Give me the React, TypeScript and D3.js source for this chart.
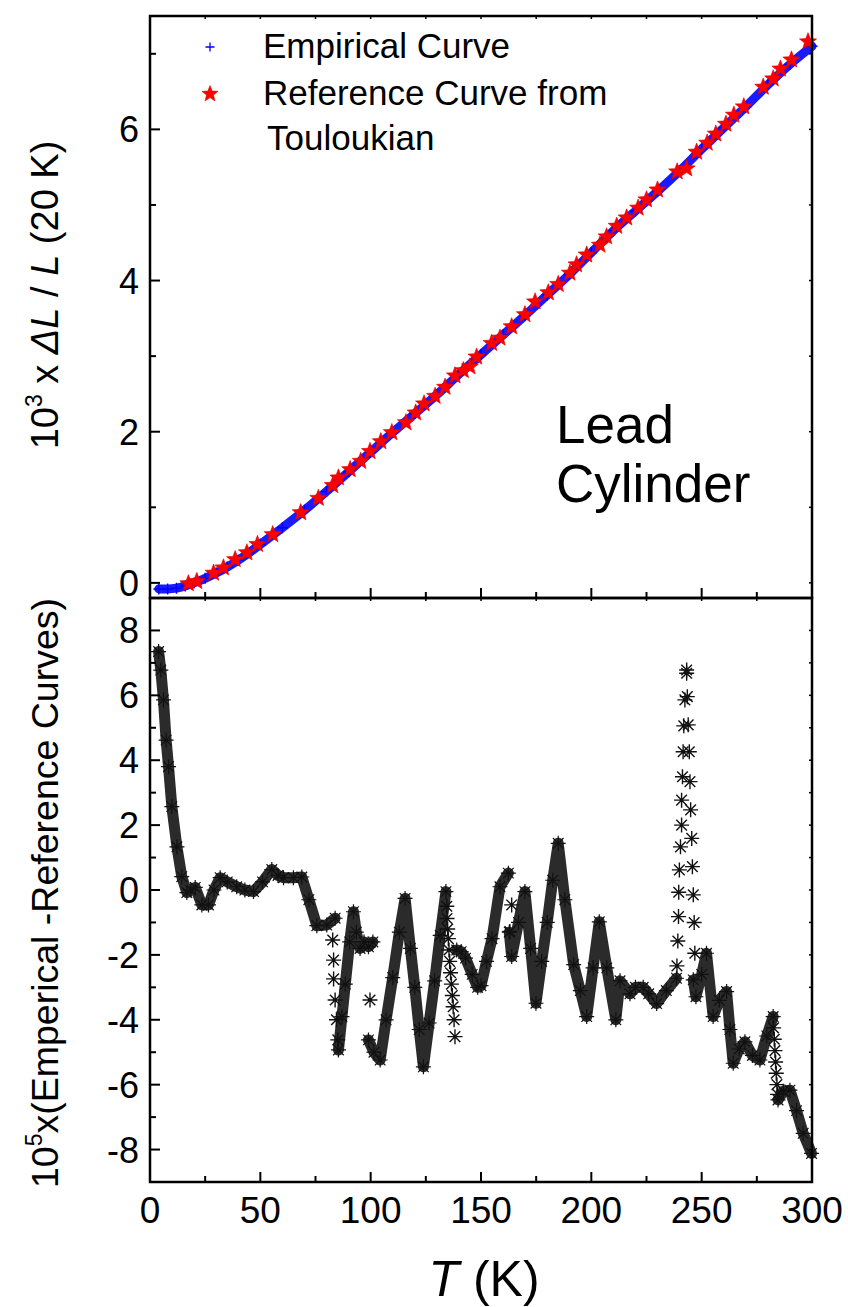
import React from 'react';
import * as d3 from 'd3';

// ---------- tick labels ----------
const xTicksMajor = [0, 50, 100, 150, 200, 250, 300];
const xTicksMinor = [25, 75, 125, 175, 225, 275];
const topYMajor = [0, 2, 4, 6];
const topYMinor = [1, 3, 5, 7];
const botYMajor = [-8, -6, -4, -2, 0, 2, 4, 6, 8];
const botYMinor = [-7, -5, -3, -1, 1, 3, 5, 7];

// ---------- top panel: empirical curve (10^3 x dL/L) ----------
const empT = [4, 8, 12, 16, 20, 25, 30, 35, 40, 45, 50, 60, 70, 80, 90, 100, 110, 120, 130, 140, 150, 160, 170, 180, 190, 200, 210, 220, 230, 240, 250, 260, 270, 280, 290, 300];
const empV = [-0.08, -0.08, -0.07, -0.04, 0.0, 0.06, 0.13, 0.21, 0.30, 0.40, 0.51, 0.73, 0.96, 1.21, 1.47, 1.73, 1.99, 2.24, 2.49, 2.76, 3.02, 3.28, 3.54, 3.81, 4.08, 4.37, 4.66, 4.92, 5.18, 5.45, 5.74, 6.02, 6.30, 6.59, 6.86, 7.10];

// ---------- top panel: reference curve from Touloukian ----------
const refT = [17.4, 21.2, 28.8, 33.3, 38.6, 43.9, 48.7, 55.6, 68.3, 76.3, 82.8, 85.4, 90.7, 95.5, 99.7, 104.6, 109.6, 116, 120.4, 124.2, 129.2, 133.7, 138.2, 142, 145, 148, 154.8, 158.6, 163.9, 169.9, 174.5, 180.5, 185, 190.3, 193.3, 197.9, 203.9, 206.9, 211.5, 216, 221.2, 225, 230, 238.9, 243.2, 247.7, 252.5, 256.4, 261, 264.6, 269.1, 277.9, 282.4, 285.7, 290.7, 298.2];
const refV = [-0.01, 0.02, 0.13, 0.20, 0.31, 0.40, 0.51, 0.64, 0.93, 1.12, 1.29, 1.39, 1.50, 1.61, 1.74, 1.87, 1.99, 2.12, 2.25, 2.37, 2.47, 2.59, 2.74, 2.81, 2.86, 2.99, 3.17, 3.24, 3.39, 3.55, 3.72, 3.84, 3.95, 4.10, 4.21, 4.34, 4.47, 4.58, 4.72, 4.83, 4.96, 5.07, 5.20, 5.44, 5.48, 5.70, 5.82, 5.94, 6.07, 6.19, 6.30, 6.56, 6.67, 6.80, 6.92, 7.16];

// ---------- bottom panel: 10^5 x (empirical - reference), dense runs ----------
const band1: [number, number][] = [[3.9, 7.35], [4.9, 6.78], [6.1, 5.86], [7.3, 4.62], [8.4, 3.8], [9.9, 2.57], [12.2, 1.33], [14.4, 0.41], [16.7, -0.08], [18.5, 0.0], [20.5, 0.08], [23.5, -0.46], [26.5, -0.46], [29, 0.0], [31.8, 0.38], [35, 0.25], [39.3, 0.1], [43, 0.0], [46.9, -0.05], [51, 0.25], [55.2, 0.63], [58, 0.45], [60.5, 0.38], [65, 0.38], [68.8, 0.4], [72, -0.3], [75.6, -1.1], [80.1, -1.08], [83.9, -0.87]];
const band2: [number, number][] = [[85.4, -4.93], [87, -3.9], [88.5, -2.9], [90.5, -1.6], [92.2, -0.67], [93.5, -1.3], [95.2, -1.8], [97, -1.6], [99, -1.75], [101, -1.6]];
const band3: [number, number][] = [[99, -4.62], [101.5, -5.0], [104.3, -5.24], [107, -4.0], [110, -2.7], [113, -1.3], [115.6, -0.26], [118, -1.8], [120, -3.0], [122, -4.3], [123.9, -5.45], [126.5, -4.1], [129, -2.8], [131.5, -1.4], [134.1, -0.05]];
const band4: [number, number][] = [[139, -1.85], [141, -1.9], [143, -2.1], [146, -2.6], [148.5, -3.0], [150, -2.95], [152.5, -2.2], [155, -1.5], [158.6, 0.1], [162.4, 0.52]];
const band5: [number, number][] = [[162.8, -1.3], [163.9, -2.05], [167, -1.0], [169.9, -0.05], [172.5, -1.8], [174.9, -3.49], [177.5, -2.2], [180, -1.0], [182.5, 0.3], [185, 1.44], [188, -0.3], [192, -2.3], [195, -3.1], [197.9, -3.9], [200.8, -2.4], [203.6, -0.98], [207, -2.4], [211.1, -4.0], [213, -2.8], [217.5, -3.2], [220, -3.0], [223.5, -3.0], [226, -3.2], [229.6, -3.5], [234, -3.1], [238.6, -2.72]];
const band6: [number, number][] = [[246.2, -2.77], [247.4, -3.29], [250, -2.6], [252.2, -1.95], [255.2, -3.9], [258, -3.4], [261.3, -3.13], [262.8, -4.3], [264.3, -5.34], [267, -4.9], [269.6, -4.68], [273, -5.1], [276.4, -5.24], [279.5, -4.5], [282.4, -3.9]];
const band7: [number, number][] = [[284.6, -6.47], [287, -6.2], [290, -6.17], [293, -6.8], [296, -7.5], [299.8, -8.12]];

// ---------- bottom panel: isolated / sparse points ----------
const sparseA: [number, number][] = [[82.8, -1.54], [83.2, -2.16], [83.2, -2.74], [83.9, -3.39], [84.5, -4.0], [85.1, -4.62], [99.7, -3.39]];
const sparseB: [number, number][] = [[134.5, -0.5], [134.6, -0.88], [134.9, -1.2], [135.2, -1.5], [135.5, -1.85], [135.8, -2.2], [136.2, -2.55], [136.6, -2.9], [137.0, -3.25], [137.4, -3.6], [137.8, -4.0], [138.2, -4.52], [163.9, -0.46], [163.1, -1.28]];
const spikeUp: [number, number][] = [[238.8, -2.34], [239.2, -1.57], [239.5, -0.82], [239.6, -0.07], [239.9, 0.62], [240.4, 1.33], [240.9, 2.0], [240.9, 2.77], [241.3, 3.49], [241.6, 4.26], [241.9, 5.06], [242.4, 5.86], [243.2, 6.68]];
const spikeDown: [number, number][] = [[243.2, 6.78], [243.5, 5.96], [243.9, 5.09], [244.4, 4.26], [244.7, 3.34], [245.0, 2.47], [245.5, 1.59], [245.8, 0.72], [246.2, -0.15], [246.6, -1.0], [246.9, -1.95]];
const sparseC: [number, number][] = [[282.6, -4.25], [282.9, -4.6], [283.2, -4.95], [283.5, -5.3], [283.8, -5.65], [284.1, -6.0], [284.4, -6.3]];

const FONT = "'Liberation Sans', Arial, Helvetica, sans-serif";

function starPath(cx: number, cy: number, R: number, r: number) {
  const pts: string[] = [];
  for (let i = 0; i < 10; i++) {
    const a = -Math.PI / 2 + (i * Math.PI) / 5;
    const rr = i % 2 === 0 ? R : r;
    pts.push(`${(cx + rr * Math.cos(a)).toFixed(2)},${(cy + rr * Math.sin(a)).toFixed(2)}`);
  }
  return 'M' + pts.join('L') + 'Z';
}

function asteriskPath(cx: number, cy: number, s: number) {
  const d = s * 0.7071;
  return `M${cx - s},${cy}L${cx + s},${cy}M${cx},${cy - s}L${cx},${cy + s}M${cx - d},${cy - d}L${cx + d},${cy + d}M${cx - d},${cy + d}L${cx + d},${cy - d}`;
}

function plusPath(cx: number, cy: number, s: number) {
  return `M${cx - s},${cy}L${cx + s},${cy}M${cx},${cy - s}L${cx},${cy + s}`;
}

export default function App() {
  const W = 848, H = 1307;
  const L = 150, R = 812, TOP = 16, MID = 598, BOT = 1182;
  const x = d3.scaleLinear().domain([0, 300]).range([L, R]);
  const yTop = d3.scaleLinear().domain([-0.2, 7.5]).range([MID, TOP]);
  const yBot = d3.scaleLinear().domain([-9, 9]).range([BOT, MID]);

  const empLine = d3.line<number>().x((_, i) => x(empT[i])).y((v) => yTop(v)).curve(d3.curveMonotoneX);
  const resLine = d3.line<[number, number]>().x((d) => x(d[0])).y((d) => yBot(d[1])).curve(d3.curveLinear);

  const bands = [band1, band2, band3, band4, band5, band6, band7];
  const sparse = [sparseA, sparseB, spikeUp, spikeDown, sparseC];

  const axisW = 2.5;
  const majorLen = 10, minorLen = 6, shortLen = 3;

  const allX = d3.range(0, 301, 25);
  const topYAll = d3.range(0, 8, 1);
  const botYAll = d3.range(-9, 10, 1);

  return (
    <svg width={W} height={H} viewBox={`0 0 ${W} ${H}`} style={{ position: 'absolute', left: 0, top: 0, display: 'block', background: '#fff' }} fontFamily={FONT}>
      <rect x={0} y={0} width={W} height={H} fill="#fff" />

      {/* ---------------- TOP PANEL DATA ---------------- */}
      <path d={empLine(empV) || ''} fill="none" stroke="#1a1aff" strokeWidth={9} strokeLinejoin="round" strokeLinecap="round" />
      {empV.map((v, i) => (
        <path key={'ep' + i} d={plusPath(x(empT[i]), yTop(v), 5.5)} stroke="#0000ff" strokeWidth={1.4} fill="none" />
      ))}
      {refV.map((v, i) => (
        <path key={'rs' + i} d={starPath(x(refT[i]), yTop(v), 9, 3.8)} fill="#ff0000" stroke="#e00000" strokeWidth={0.6} />
      ))}

      {/* ---------------- BOTTOM PANEL DATA ---------------- */}
      {bands.map((b, i) => (
        <path key={'bl' + i} d={resLine(b) || ''} fill="none" stroke="#2b2b2b" strokeWidth={11} strokeLinejoin="round" strokeLinecap="round" />
      ))}
      {bands.map((b, i) =>
        b.map((d, j) => (
          <path key={'bm' + i + '_' + j} d={asteriskPath(x(d[0]), yBot(d[1]), 7.5)} stroke="#111" strokeWidth={1.2} fill="none" />
        ))
      )}
      {sparse.map((b, i) =>
        b.map((d, j) => (
          <path key={'sm' + i + '_' + j} d={asteriskPath(x(d[0]), yBot(d[1]), 7.5)} stroke="#111" strokeWidth={1.4} fill="none" />
        ))
      )}

      {/* ---------------- FRAMES ---------------- */}
      <rect x={L} y={TOP} width={R - L} height={MID - TOP} fill="none" stroke="#000" strokeWidth={axisW} />
      <rect x={L} y={MID} width={R - L} height={BOT - MID} fill="none" stroke="#000" strokeWidth={axisW} />

      {/* ---------------- TICKS ---------------- */}
      {allX.map((t) => {
        const major = t % 50 === 0;
        return <line key={'tb' + t} x1={x(t)} x2={x(t)} y1={MID} y2={MID - (major ? majorLen : minorLen)} stroke="#000" strokeWidth={2} />;
      })}
      {allX.map((t) => (
        <line key={'tt' + t} x1={x(t)} x2={x(t)} y1={TOP} y2={TOP + shortLen} stroke="#000" strokeWidth={1.5} />
      ))}
      {topYMajor.map((t) => (
        <line key={'tlM' + t} x1={L} x2={L + majorLen} y1={yTop(t)} y2={yTop(t)} stroke="#000" strokeWidth={2} />
      ))}
      {topYMinor.map((t) => (
        <line key={'tlm' + t} x1={L} x2={L + minorLen} y1={yTop(t)} y2={yTop(t)} stroke="#000" strokeWidth={2} />
      ))}
      {topYAll.map((t) => (
        <line key={'tr' + t} x1={R} x2={R - shortLen} y1={yTop(t)} y2={yTop(t)} stroke="#000" strokeWidth={1.5} />
      ))}
      {allX.map((t) => {
        const major = t % 50 === 0;
        return <line key={'bb' + t} x1={x(t)} x2={x(t)} y1={BOT} y2={BOT - (major ? majorLen : minorLen)} stroke="#000" strokeWidth={2} />;
      })}
      {allX.map((t) => (
        <line key={'bt' + t} x1={x(t)} x2={x(t)} y1={MID} y2={MID + shortLen} stroke="#000" strokeWidth={1.5} />
      ))}
      {botYMajor.map((t) => (
        <line key={'blM' + t} x1={L} x2={L + majorLen} y1={yBot(t)} y2={yBot(t)} stroke="#000" strokeWidth={2} />
      ))}
      {botYMinor.map((t) => (
        <line key={'blm' + t} x1={L} x2={L + minorLen} y1={yBot(t)} y2={yBot(t)} stroke="#000" strokeWidth={2} />
      ))}
      {botYAll.map((t) => (
        <line key={'br' + t} x1={R} x2={R - shortLen} y1={yBot(t)} y2={yBot(t)} stroke="#000" strokeWidth={1.5} />
      ))}

      {/* ---------------- TICK LABELS ---------------- */}
      {topYMajor.map((t) => (
        <text key={'tyl' + t} x={139} y={yTop(t)} dy="0.36em" textAnchor="end" fontSize={36} fill="#000">{t}</text>
      ))}
      {botYMajor.map((t) => (
        <text key={'byl' + t} x={139} y={yBot(t)} dy="0.36em" textAnchor="end" fontSize={36} fill="#000">{t}</text>
      ))}
      {xTicksMajor.map((t) => (
        <text key={'xl' + t} x={x(t)} y={1223} textAnchor="middle" fontSize={37} fill="#000">{t}</text>
      ))}

      {/* ---------------- AXIS TITLES ---------------- */}
      <text transform="translate(58,295) rotate(-90)" textAnchor="middle" fontSize={38} fill="#000">
        <tspan>10</tspan>
        <tspan fontSize={23} dy={-16}>3</tspan>
        <tspan dy={16}> x </tspan>
        <tspan fontStyle="italic">ΔL</tspan>
        <tspan> / </tspan>
        <tspan fontStyle="italic">L</tspan>
        <tspan> (20 K)</tspan>
      </text>
      <text transform="translate(58,893) rotate(-90)" textAnchor="middle" fontSize={37.5} fill="#000">
        <tspan>10</tspan>
        <tspan fontSize={23} dy={-16}>5</tspan>
        <tspan dy={16}>x(Emperical -Reference Curves)</tspan>
      </text>
      <text x={484} y={1296} textAnchor="middle" fontSize={50} fill="#000">
        <tspan fontStyle="italic">T</tspan>
        <tspan> (K)</tspan>
      </text>

      {/* ---------------- LEGEND ---------------- */}
      <path d={plusPath(210, 47, 4.5)} stroke="#0000ff" strokeWidth={1.3} fill="none" />
      <text x={263} y={58} fontSize={35} fill="#000">Empirical Curve</text>
      <path d={starPath(210, 94, 8.5, 3.6)} fill="#ff0000" stroke="#e00000" strokeWidth={0.6} />
      <text x={263} y={105} fontSize={35} fill="#000">Reference Curve from</text>
      <text x={267} y={150} fontSize={35} fill="#000">Touloukian</text>

      {/* ---------------- ANNOTATION ---------------- */}
      <text x={556} y={443} fontSize={53} fill="#000">Lead</text>
      <text x={556} y={502} fontSize={53} fill="#000">Cylinder</text>
    </svg>
  );
}
